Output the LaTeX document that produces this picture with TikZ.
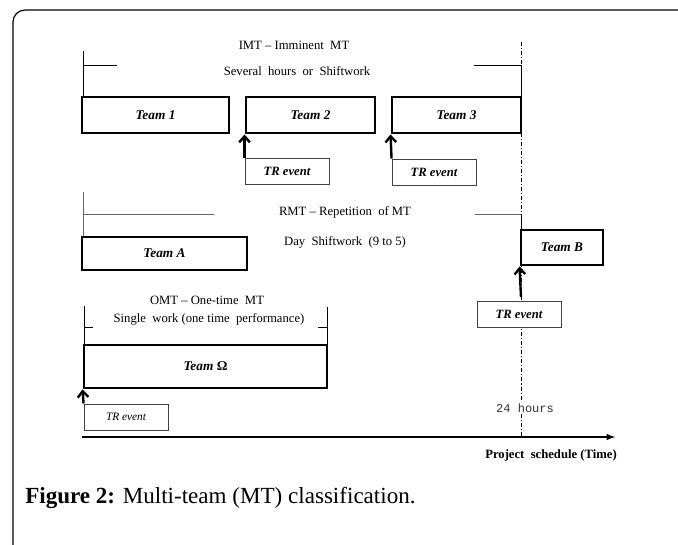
\documentclass[tikz,border=0pt]{standalone}
\usepackage{fontspec}
\setmainfont{Liberation Serif}
\setmonofont{Liberation Mono}
\usetikzlibrary{arrows.meta}
\tikzset{
  teambox/.style={draw, fill=white, line width=2.2pt, inner sep=0pt, font=\fontsize{10}{12}\selectfont\bfseries\itshape},
  trbox/.style={draw=black!75, fill=white, line width=0.7pt, inner sep=0pt, minimum width=63pt, minimum height=19.5pt, font=\fontsize{9.5}{11}\selectfont\bfseries\itshape},
  trigger/.style={line width=1.8pt, -{Straight Barb[length=4.5pt,width=8pt,line width=1.8pt]}},
  rowtext/.style={font=\fontsize{9.5}{11}\selectfont, inner sep=0pt},
  bracket/.style={line width=0.6pt}
}
\begin{document}
\begin{tikzpicture}[x=0.75pt,y=-0.75pt]
\useasboundingbox (0,0) rectangle (678,545);
%%%%%%%%%%%%%%%%%%Draw The Frame%%%%%%%%%%%%%%%
\draw[line width=0.9pt, rounded corners=9pt] (13,546) -- (13,10) -- (679,10);

%%%%%%%%%%%%%%Draw The 24 hours Line%%%%%%%%%%%%%%
\draw[line width=0.6pt, dash pattern=on 3pt off 1.5pt on 0.8pt off 1.5pt] (521,42) -- (521,437);

%%%%%%%%%%%%%%%%%%%IMT Row%%%%%%%%%%%%%%%%%%
\node[rowtext] (imt) at (294,45) {IMT -- Imminent\ \ MT};
\node[rowtext] (imtwork) at (297,71) {Several\ \ hours\ \ or\ \ Shiftwork};
\draw[bracket] (83,51) -- (83,97);
\draw[bracket] (83,65) -- (117,65);
\draw[bracket] (474,65) -- (521,65) -- (521,97);

\node[teambox, minimum width=110.25pt, minimum height=27pt] (team1) at (155.5,115) {Team 1};
\node[teambox, minimum width=96.75pt, minimum height=27pt] (team2) at (310.5,115) {Team 2};
\node[teambox, minimum width=96.75pt, minimum height=27pt] (team3) at (456.5,115) {Team 3};

\node[trbox] (tr1) at (287,171) {TR event};
\node[trbox] (tr2) at (434,172) {TR event};
\draw[trigger] (tr1.north west) -- (team2.south west);
\draw[trigger] (tr2.north west) -- (team3.south west);

%%%%%%%%%%%%%%%%%%%RMT Row%%%%%%%%%%%%%%%%%%
\node[rowtext] (rmt) at (345,212) {RMT -- Repetition\ \ of MT};
\node[rowtext] (rmtwork) at (345,242) {Day\ \ Shiftwork\ \ (9 to 5)};
\draw[bracket, black!60] (83,192) -- (83,237);
\draw[bracket, black!60] (84,214) -- (214,214);
\draw[bracket, black!60] (475,214) -- (521,214);
\draw[bracket] (521,214) -- (521,230);

\node[teambox, minimum width=123.75pt, minimum height=24.75pt] (teamA) at (164.5,253.5) {Team A};
\node[teambox, minimum width=61.5pt, minimum height=26.25pt] (teamB) at (562,247.5) {Team B};

\node[trbox] (tr3) at (519,314.5) {TR event};
\coordinate (tr3top) at ([xshift=1.5pt,yshift=3pt]tr3.north);
\draw[trigger] (tr3top) -- (teamB.south west);

%%%%%%%%%%%%%%%%%%%OMT Row%%%%%%%%%%%%%%%%%%
\node[rowtext] (omt) at (207,300) {OMT -- One-time\ \ MT};
\node[rowtext] (omtwork) at (209,319) {Single\ \ work (one time\ \ performance)};
\draw[bracket] (84,306) -- (84,345);
\draw[bracket] (84,327) -- (93,327);
\draw[bracket] (327,307) -- (327,345);
\draw[bracket] (318,327) -- (327,327);

\node[teambox, minimum width=182.25pt, minimum height=32.25pt] (teamO) at (205.5,366.5) {Team \textup{Ω}};

\node[trbox, font=\fontsize{8.5}{10}\selectfont\itshape] (tr4) at (126,417) {TR event};
\draw[trigger] (tr4.north west) -- (teamO.south west);

%%%%%%%%%%%%%%%%%%%Draw The Time Axis%%%%%%%%%%%%%%%%%%
\coordinate (start) at (82,437);
\coordinate (end) at (616,437);
\draw[line width=1.8pt, -{Latex[length=7pt,width=5pt]}] (start) -- (end);
\node[font=\fontsize{9.5}{11}\selectfont\bfseries, inner sep=0pt] (axislabel) at (551,455) {Project\ \ schedule (Time)};
\node[font=\fontsize{9}{11}\selectfont\ttfamily, text=black!80, fill=white, inner sep=1pt] (day) at (525,408) {24 hours};

%%%%%%%%%%%%%%%%%%%Caption%%%%%%%%%%%%%%%%%%
\node[anchor=base west, inner sep=0pt, font=\fontsize{17.3}{20}\selectfont] (caption) at (25,503) {\textbf{Figure 2:} Multi-team (MT) classification.};
\end{tikzpicture}
\end{document}
